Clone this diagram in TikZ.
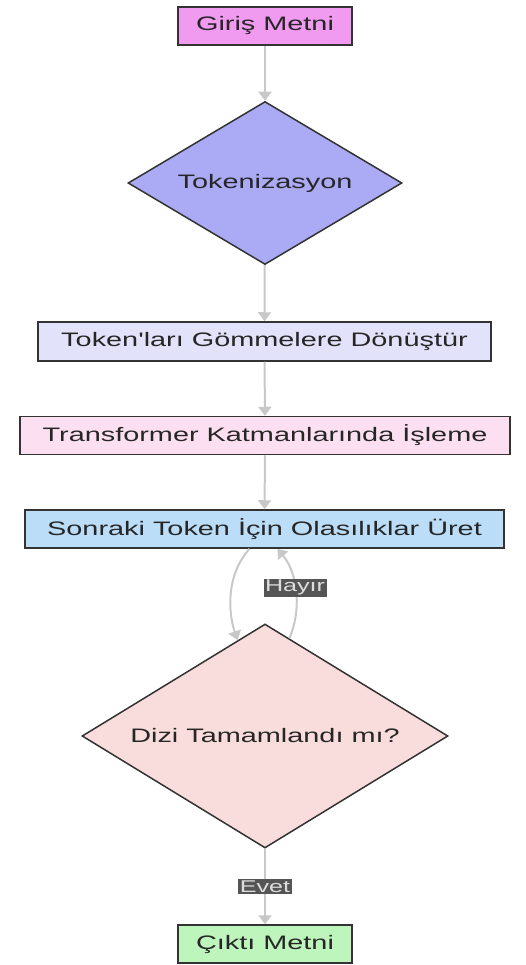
\documentclass[tikz,border=0pt]{standalone}
\usepackage{fontspec}
\setmainfont{Liberation Sans}
\newfontfamily\libsans{Liberation Sans}
\usetikzlibrary{shapes.geometric,arrows.meta}
\definecolor{cGiris}{HTML}{F09AF0}
\definecolor{cTok}{HTML}{AAAAF5}
\definecolor{cEmb}{HTML}{E2E2FA}
\definecolor{cTrans}{HTML}{FCE0F2}
\definecolor{cSon}{HTML}{BBDDF8}
\definecolor{cDec}{HTML}{F9DCDC}
\definecolor{cOut}{HTML}{BDF5BD}
\definecolor{cLine}{HTML}{C8C8C8}
\definecolor{cBorder}{HTML}{333333}
\definecolor{cLblBg}{HTML}{555555}
\definecolor{cLblTx}{HTML}{DDDDDD}
\newcommand{\sx}[1]{\scalebox{1.48}[1]{#1}}
\tikzset{
  box/.style={draw=cBorder, line width=1.5pt, rectangle, inner sep=0pt,
    minimum height=38pt, font=\libsans\fontsize{19.5}{22}\selectfont, text=black!85},
  dia/.style={draw=cBorder, line width=1.5pt, diamond, inner sep=0pt,
    font=\libsans\fontsize{19.5}{22}\selectfont, text=black!85},
  conn/.style={draw=cLine, line width=2pt,
    -{Triangle[width=13pt,length=9pt,fill=cLine]}},
  lbl/.style={fill=cLblBg, text=cLblTx, inner sep=1.5pt,
    font=\libsans\fontsize{17}{18}\selectfont}
}
\begin{document}
\begin{tikzpicture}[x=1pt,y=-1pt]
\useasboundingbox (0,0) rectangle (526,965);
\node[box, fill=cGiris, minimum width=174pt] (giris) at (265,26) {\sx{Giriş Metni}};
\node[dia, fill=cTok, aspect=1.68, minimum width=274pt, minimum height=163pt] (tok) at (265,183) {\sx{Tokenizasyon}};
\node[box, fill=cEmb, minimum width=453pt, minimum height=39pt] (emb) at (264.5,341.5) {\sx{Token'ları Gömmelere Dönüştür}};
\node[box, fill=cTrans, minimum width=490pt] (trans) at (265,435.5) {\sx{Transformer Katmanlarında İşleme}};
\node[box, fill=cSon, minimum width=479pt] (son) at (264.5,529) {\sx{Sonraki Token İçin Olasılıklar Üret}};
\node[dia, fill=cDec, aspect=1.634, minimum width=366pt, minimum height=224pt] (dec) at (265,736) {\sx{Dizi Tamamlandı mı?}};
\node[box, fill=cOut, minimum width=174pt] (out) at (265,944) {\sx{Çıktı Metni}};

\draw[conn] (giris) -- (tok);
\draw[conn] (tok) -- (emb);
\draw[conn] (emb) -- (trans);
\draw[conn] (trans) -- (son);
\draw[conn] ([xshift=-15pt]son.south) .. controls (226,575) and (228,612) .. (dec.106);
\draw[conn] (dec.76) .. controls (301,612) and (299,575) .. ([xshift=13pt]son.south)
  node[lbl, pos=0.56] (hayir) {\sx{Hayır}};
\draw[conn] (dec) -- (out) node[lbl, midway] (evet) {\sx{Evet}};
\end{tikzpicture}
\end{document}
